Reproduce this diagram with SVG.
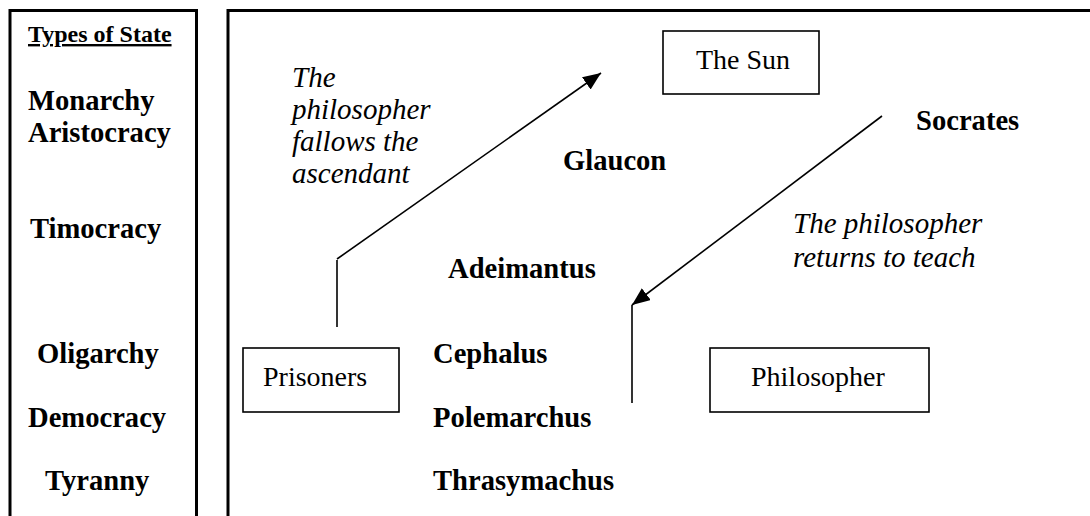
<svg xmlns="http://www.w3.org/2000/svg" width="1090" height="516" viewBox="0 0 1090 516">
<style>
.frame{fill:none;stroke:#000;stroke-width:3}
.box{fill:#fff;stroke:#000;stroke-width:1.6}
.b{font-family:"Liberation Serif","Times New Roman",serif;font-weight:bold;font-size:28.6px;fill:#000}
.r{font-family:"Liberation Serif","Times New Roman",serif;font-size:28px;fill:#000}
.i{font-family:"Liberation Serif","Times New Roman",serif;font-style:italic;font-size:29px;fill:#000}
.h{font-family:"Liberation Serif","Times New Roman",serif;font-weight:bold;font-size:24px;text-decoration:underline;fill:#000}
.ln{fill:none;stroke:#000;stroke-width:1.6}
</style>
<defs>
<marker id="arr" markerUnits="userSpaceOnUse" markerWidth="20" markerHeight="16" refX="18" refY="7.5" orient="auto">
<path d="M0,0 L18,7.5 L0,15 z" fill="#000"/>
</marker>
</defs>
<rect width="1090" height="516" fill="#fff"/>
<g id="states">
<rect class="frame" x="10" y="10.5" width="186.5" height="520"/>
<text class="h" x="28" y="42">Types of State</text>
<text class="b" x="28" y="110">Monarchy</text>
<text class="b" x="28" y="142">Aristocracy</text>
<text class="b" x="30" y="238">Timocracy</text>
<text class="b" x="37" y="363">Oligarchy</text>
<text class="b" x="28" y="427">Democracy</text>
<text class="b" x="45" y="490">Tyranny</text>
</g>
<g id="cave">
<rect class="frame" x="228" y="10.5" width="880" height="520"/>
</g>
<g id="connectors">
<line class="ln" x1="337" y1="327" x2="337" y2="260"/>
<line class="ln" x1="337" y1="259" x2="601" y2="73" marker-end="url(#arr)"/>
<line class="ln" x1="882" y1="116" x2="632" y2="305" marker-end="url(#arr)"/>
<line class="ln" x1="632" y1="305" x2="632" y2="403"/>
</g>
<g id="sun">
<rect class="box" x="663" y="31" width="156" height="63"/>
<text class="r" x="696" y="69">The Sun</text>
</g>
<g id="prisoners">
<rect class="box" x="243" y="348" width="156" height="64"/>
<text class="r" x="263" y="386">Prisoners</text>
</g>
<g id="philosopher">
<rect class="box" x="710" y="348" width="219" height="64"/>
<text class="r" x="751" y="386">Philosopher</text>
</g>
<g id="labels">
<text class="i" x="292" y="87">The</text>
<text class="i" x="292" y="119">philosopher</text>
<text class="i" x="292" y="151">fallows the</text>
<text class="i" x="292" y="183">ascendant</text>
<text class="i" x="793" y="233">The philosopher</text>
<text class="i" x="793" y="267">returns to teach</text>
</g>
<g id="people">
<text class="b" x="916" y="130">Socrates</text>
<text class="b" x="563" y="170">Glaucon</text>
<text class="b" x="448" y="278">Adeimantus</text>
<text class="b" x="433" y="363">Cephalus</text>
<text class="b" x="433" y="427">Polemarchus</text>
<text class="b" x="433" y="490">Thrasymachus</text>
</g>
</svg>
